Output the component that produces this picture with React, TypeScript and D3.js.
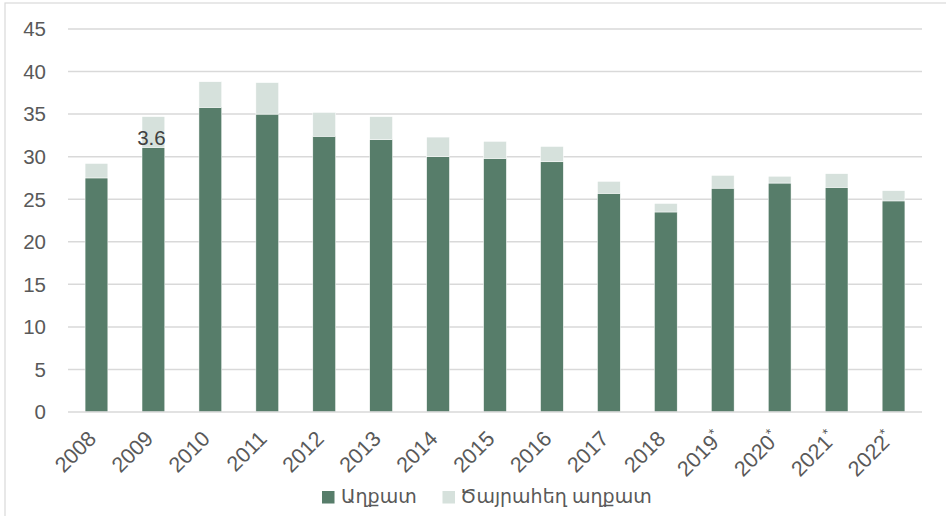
import React from "react";
import * as d3 from "d3";

const categories = ["2008","2009","2010","2011","2012","2013","2014","2015","2016","2017","2018","2019*","2020*","2021*","2022*"];
const poor = [27.5, 31.1, 35.8, 35.0, 32.4, 32.0, 30.0, 29.8, 29.4, 25.7, 23.5, 26.3, 26.9, 26.4, 24.8];
const extreme = [1.7, 3.6, 3.0, 3.7, 2.8, 2.7, 2.3, 2.0, 1.8, 1.4, 1.0, 1.5, 0.8, 1.6, 1.2];
const yTicks = [0, 5, 10, 15, 20, 25, 30, 35, 40, 45];
const seriesNames = ["Աղքատ", "Ծայրահեղ աղքատ"];
const labelIndex = 1;

const W = 946, H = 516;
const left = 68, right = 922, top = 29, bottom = 412;
const colors = ["#577d6a", "#d6e1dc"];
const font = "'Liberation Sans', Arial, 'DejaVu Sans', sans-serif";

export default function App() {
  const x = d3.scaleBand<string>().domain(categories).range([left, right]).paddingInner(0.6).paddingOuter(0.3);
  const y = d3.scaleLinear().domain([0, 45]).range([bottom, top]);
  const stackData = categories.map((c, i) => ({ cat: c, a: poor[i], b: extreme[i] }));
  const stack = d3.stack<any>().keys(["a", "b"])(stackData);

  return (
    <svg width={W} height={H} style={{ position: "absolute", left: 0, top: 0, background: "#fff" }}>
      <rect x={5} y={3} width={W + 10} height={H + 10} fill="#fff" stroke="#d9d9d9" strokeWidth={1.2} />
      {yTicks.map((t) => (
        <g key={t}>
          {t > 0 && <line x1={left} x2={right} y1={y(t)} y2={y(t)} stroke="#d9d9d9" strokeWidth={1.5} />}
          <text x={46} y={y(t)} dy="0.36em" textAnchor="end" fontSize={20.5} fill="#595959" fontFamily={font}>{t}</text>
        </g>
      ))}
      {stack.map((s, si) => (
        <g key={si}>
          {s.map((d, i) => (
            <rect key={i} x={x(categories[i])} width={x.bandwidth()} y={y(d[1])} height={y(d[0]) - y(d[1])}
              fill={colors[si]} stroke="#ffffff" strokeWidth={0.5} />
          ))}
        </g>
      ))}
      <line x1={left} x2={right} y1={bottom} y2={bottom} stroke="#d9d9d9" strokeWidth={1.5} />
      <text x={(x(categories[labelIndex]) as number) + x.bandwidth() / 2 - 2} y={y(poor[labelIndex]) - 2}
        textAnchor="middle" fontSize={20.5} fill="#404040" fontFamily={font}>{extreme[labelIndex].toFixed(1)}</text>
      {categories.map((c) => {
        const cx = (x(c) as number) + x.bandwidth() / 2 + 1;
        const base = c.replace("*", "");
        const star = c.endsWith("*");
        return (
          <text key={c} transform={`translate(${cx},${440}) rotate(-45)`} textAnchor="end" fontSize={21.5} fill="#595959" fontFamily={font}>
            {base}{star && <tspan fontSize={14} dy={-8}>*</tspan>}
          </text>
        );
      })}
      <g>
        <rect x={322} y={491} width={12.5} height={12.5} fill={colors[0]} />
        <text x={341} y={503} fontSize={19} fill="#595959" fontFamily={font}>{seriesNames[0]}</text>
        <rect x={442.5} y={491} width={12.5} height={12.5} fill={colors[1]} />
        <text x={460} y={503} fontSize={19} fill="#595959" fontFamily={font}>{seriesNames[1]}</text>
      </g>
    </svg>
  );
}
